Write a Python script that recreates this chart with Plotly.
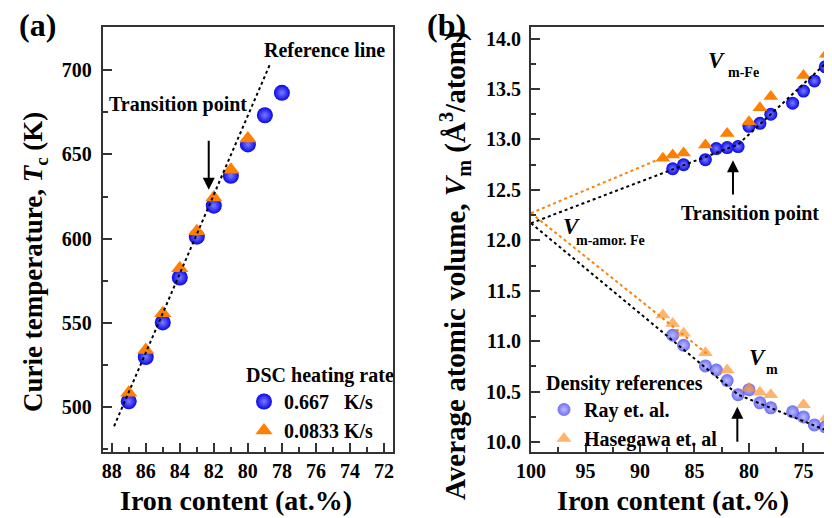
import plotly.graph_objects as go

# ---------------- data: panel (a) ----------------
fe_a_fast = [87, 86, 85, 84, 83, 82, 81, 80, 79, 78]
tc_fast = [503.5, 529.8, 550.3, 577.0, 601.2, 619.6, 637.4, 656.0, 673.3, 686.6]
fe_a_slow = [87, 86, 85, 84, 83, 82, 81, 80]
tc_slow = [508.5, 534.0, 555.8, 582.5, 604.5, 624.5, 641.0, 659.5]
ref_fe = [87.86, 78.7]
ref_tc = [488.7, 703.6]

# ---------------- data: panel (b) ----------------
fe_up_ray = [87, 86, 84, 83, 82, 81, 80, 79, 78, 76, 75, 74, 73, 72.6]
vm_up_ray = [12.71, 12.75, 12.80, 12.91, 12.92, 12.93, 13.13, 13.16, 13.25, 13.36, 13.48, 13.58, 13.72, 13.84]
fe_up_has = [87.9, 87, 86, 84, 82, 80, 79, 78, 75, 72.9]
vm_up_has = [12.815, 12.845, 12.865, 12.945, 13.06, 13.175, 13.315, 13.425, 13.635, 13.845]
fe_low_ray = [87, 86, 84, 83, 82, 81, 80, 79, 78, 76, 75, 74, 73, 72.3]
vm_low_ray = [11.06, 10.96, 10.755, 10.715, 10.61, 10.47, 10.52, 10.39, 10.34, 10.30, 10.25, 10.17, 10.15, 10.10]
fe_low_has = [87.9, 87, 86, 84, 82, 80, 79, 78, 75, 72.9]
vm_low_has = [11.26, 11.175, 11.08, 10.885, 10.715, 10.535, 10.495, 10.47, 10.37, 10.245]

fit_up_black_fe = [100, 81, 72.3]
fit_up_black_vm = [12.17, 12.95, 13.82]
fit_up_orange_fe = [100, 87.9]
fit_up_orange_vm = [12.27, 12.82]
fit_low_black_fe = [100, 81, 72.3]
fit_low_black_vm = [12.17, 10.47, 10.09]
fit_low_orange_fe = [100, 83.9]
fit_low_orange_vm = [12.27, 10.88]

W, H = 832, 518
OFF = 8  # page body margin
FONT = "Liberation Serif"
BLUE = "#0808e8"
ORANGE = "#ff8000"


def px(x):
    return (x - OFF) / W


def py(y):
    return 1 - (y - OFF) / H


fig = go.Figure()

sphere = dict(type="radial", color="#7c7cff")

# panel (a)
fig.add_trace(go.Scatter(x=fe_a_fast, y=tc_fast, mode="markers", name="0.667\u00a0\u00a0\u00a0K/s",
                         marker=dict(symbol="circle", size=16, color=BLUE, gradient=sphere, line=dict(width=0)),
                         xaxis="x", yaxis="y", legend="legend"))
fig.add_trace(go.Scatter(x=fe_a_slow, y=tc_slow, mode="markers", name="0.0833 K/s",
                         marker=dict(symbol="triangle-up", size=15, color=ORANGE, line=dict(width=0)),
                         xaxis="x", yaxis="y", legend="legend"))
fig.add_trace(go.Scatter(x=ref_fe, y=ref_tc, mode="lines", showlegend=False,
                         line=dict(color="black", width=2, dash="dot"), xaxis="x", yaxis="y"))

# panel (b)
fig.add_trace(go.Scatter(x=fe_up_ray, y=vm_up_ray, mode="markers", showlegend=False,
                         marker=dict(symbol="circle", size=13, color=BLUE, gradient=sphere, line=dict(width=0)),
                         xaxis="x2", yaxis="y2"))
fig.add_trace(go.Scatter(x=fe_up_has, y=vm_up_has, mode="markers", showlegend=False,
                         marker=dict(symbol="triangle-up", size=13, color=ORANGE, line=dict(width=0)),
                         xaxis="x2", yaxis="y2"))
fig.add_trace(go.Scatter(x=fe_low_ray, y=vm_low_ray, mode="markers", name="Ray et. al.",
                         marker=dict(symbol="circle", size=13, color="rgba(55,55,238,0.72)",
                                     gradient=dict(type="radial", color="rgba(160,160,255,0.72)"),
                                     line=dict(width=0)),
                         xaxis="x2", yaxis="y2", legend="legend2"))
fig.add_trace(go.Scatter(x=fe_low_has, y=vm_low_has, mode="markers", name="Hasegawa et. al",
                         marker=dict(symbol="triangle-up", size=13, color="rgba(255,145,40,0.68)",
                                     line=dict(width=0)),
                         xaxis="x2", yaxis="y2", legend="legend2"))
for fx, fy, col in [(fit_up_orange_fe, fit_up_orange_vm, "#ff8000"),
                    (fit_low_orange_fe, fit_low_orange_vm, "#ff8000"),
                    (fit_up_black_fe, fit_up_black_vm, "black"),
                    (fit_low_black_fe, fit_low_black_vm, "black")]:
    fig.add_trace(go.Scatter(x=fx, y=fy, mode="lines", showlegend=False,
                             line=dict(color=col, width=2, dash="dot"), xaxis="x2", yaxis="y2"))

tickfont = dict(family=FONT, size=20, color="black", weight="bold")
axis_common = dict(showline=True, linecolor="#333333", linewidth=2, ticks="inside", ticklen=9,
                   tickwidth=1.5, tickcolor="#333333", showgrid=False, zeroline=False,
                   tickfont=tickfont, automargin=False)

ydom = [py(451.5), py(27.3)]
fig.update_layout(
    width=W, height=H, margin=dict(l=0, r=0, t=0, b=0, autoexpand=False),
    paper_bgcolor="white", plot_bgcolor="white",
    xaxis=dict(domain=[px(102.7), px(392.7)], range=[88.53, 71.49], dtick=2, mirror=True,
               minor=dict(dtick=1, ticks="inside", ticklen=5, tickcolor="#333333"),
               anchor="y", **axis_common),
    yaxis=dict(domain=ydom, range=[473.7, 725.5], dtick=50, mirror=True,
               minor=dict(dtick=25, ticks="inside", ticklen=5, tickcolor="#333333"),
               anchor="x", ticklabelstandoff=5, **axis_common),
    xaxis2=dict(domain=[px(531), 1.0], range=[100, 71.65], dtick=5, mirror=True,
                minor=dict(dtick=2.5, ticks="inside", ticklen=5, tickcolor="#333333"),
                anchor="y2", **axis_common),
    yaxis2=dict(domain=ydom, range=[9.907, 14.112], dtick=0.5, tickformat=".1f", mirror=False,
                minor=dict(dtick=0.25, ticks="inside", ticklen=5, tickcolor="#333333"),
                anchor="x2", ticklabelstandoff=4, **axis_common),
    legend=dict(x=px(244), y=py(356), xanchor="left", yanchor="top", bgcolor="rgba(0,0,0,0)",
                font=dict(family=FONT, size=20, color="black", weight="bold"),
                title=dict(text="DSC heating rate", font=dict(family=FONT, size=20, color="black", weight="bold")),
                tracegroupgap=0, itemsizing="trace"),
    legend2=dict(x=px(544), y=py(364), xanchor="left", yanchor="top", bgcolor="rgba(0,0,0,0)",
                 font=dict(family=FONT, size=20, color="black", weight="bold"),
                 title=dict(text="Density references", font=dict(family=FONT, size=20, color="black", weight="bold")),
                 tracegroupgap=0, itemsizing="trace"),
)


def text_ann(x, y, text, size, **kw):
    d = dict(x=px(x), y=py(y), xref="paper", yref="paper", text=text, showarrow=False,
             xanchor="center", yanchor="middle",
             font=dict(family=FONT, size=size, color="black", weight="bold"))
    d.update(kw)
    return d


anns = [
    text_ann(37, 25, "(a)", 32),
    text_ann(447, 25, "(b)", 32),
    text_ann(35, 262, "Curie temperature, <i>T</i><sub>c</sub> (K)", 27, textangle=-90),
    text_ann(455, 266, "Average atomic volume, <i>V</i><sub>m</sub> (Å<sup>3</sup>/atom)", 29, textangle=-90),
    text_ann(236, 500, "Iron content (at.%)", 28),
    text_ann(673, 500, "Iron content (at.%)", 28),
    text_ann(324, 50, "Reference line", 20),
    text_ann(178, 105, "Transition point", 20),
    text_ann(750, 213, "Transition point", 20),
    text_ann(716, 60, "<i>V</i>", 23),
    text_ann(743, 73, "m-Fe", 14),
    text_ann(571, 227, "<i>V</i>", 23),
    text_ann(610, 240, "m-amor. Fe", 14),
    text_ann(757, 357, "<i>V</i>", 23),
    text_ann(772, 369, "m", 14),
]
arrows = [
    dict(x=82.3, y=629, ax=82.3, ay=659, xref="x", yref="y", axref="x", ayref="y"),
    dict(x=81.47, y=12.795, ax=81.47, ay=12.44, xref="x2", yref="y2", axref="x2", ayref="y2"),
    dict(x=81.07, y=10.35, ax=81.07, ay=9.99, xref="x2", yref="y2", axref="x2", ayref="y2"),
]
for a in arrows:
    a.update(text="", showarrow=True, arrowhead=2, arrowsize=1.2, arrowwidth=2, arrowcolor="black")
    anns.append(a)
fig.update_layout(annotations=anns)

fig.write_html("out.html")
